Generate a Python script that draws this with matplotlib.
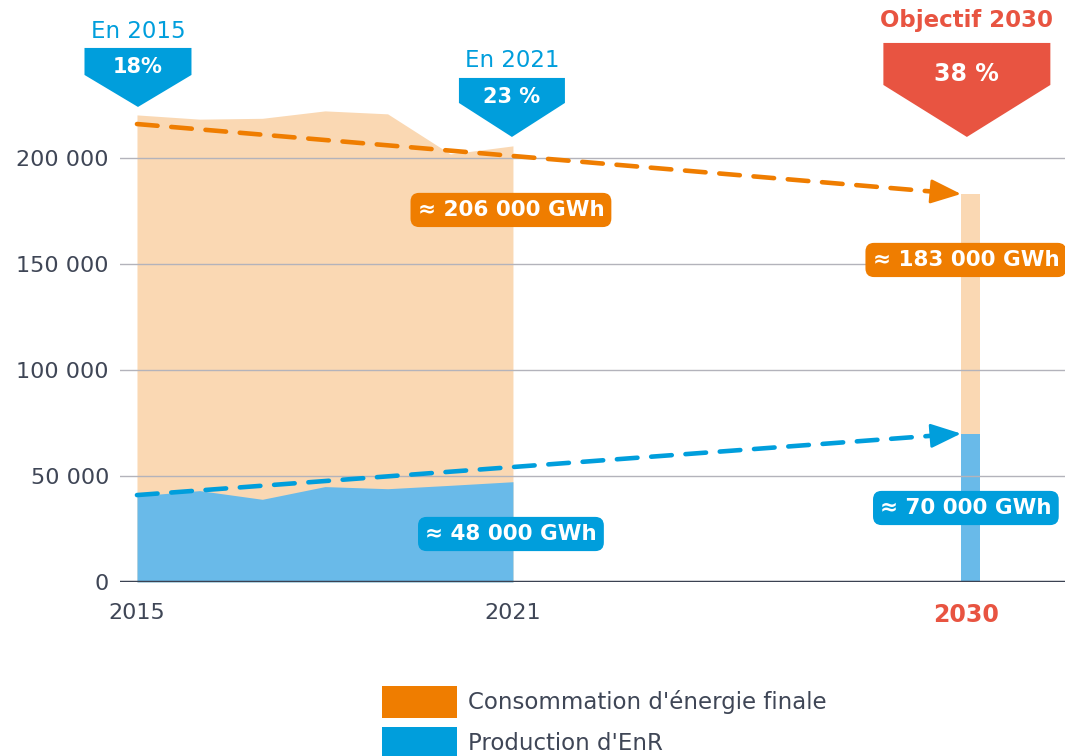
import numpy as np
import matplotlib.pyplot as plt
from matplotlib.patches import Polygon, Rectangle

plt.rcParams['font.family'] = ['DejaVu Sans']

# données
annees = [2015, 2016, 2017, 2018, 2019, 2020, 2021]
conso = [220300, 218300, 218700, 222200, 220800, 201900, 205700]
enr = [40600, 43100, 39000, 45000, 44000, 45600, 47300]
objectif_annee = 2030
objectif_conso = 183000
objectif_enr = 70000
tendance_conso = [216000, 183000]
tendance_enr = [41000, 70000]
parts = ['18%', '23 %', '38 %']
parts_titres = ['En 2015', 'En 2021', 'Objectif 2030']
etiquettes = ['≈ 206 000 GWh', '≈ 183 000 GWh', '≈ 48 000 GWh', '≈ 70 000 GWh']
yticks = [0, 50000, 100000, 150000, 200000]
ytick_labels = ['0', '50 000', '100 000', '150 000', '200 000']
legende = ["Consommation d'énergie finale", "Production d'EnR"]

ORANGE = '#EF7D00'
ORANGE_CLAIR = '#FAD8B3'
BLEU = '#009EDC'
BLEU_CLAIR = '#69BAE9'
ROUGE = '#E85441'
TEXTE = '#3F4656'

# axe x compressé entre 2021 et 2030
x = np.array(annees) - annees[0]
x_2030 = 13.3
barre_l = 0.30

W, H = 1065, 756
fig = plt.figure(figsize=(W / 100, H / 100), dpi=100)
ax = fig.add_axes([120 / W, 1 - 582 / H, 945 / W, 582 / H])
ax.set_xlim(-0.271, 14.81)
ax.set_ylim(0, 274500)

# aires
ax.fill_between(x, 0, conso, color=ORANGE_CLAIR, lw=0, zorder=1)
ax.fill_between(x, 0, enr, color=BLEU_CLAIR, lw=0, zorder=2)
ax.bar(x_2030, objectif_conso, width=barre_l, color=ORANGE_CLAIR, zorder=1)
ax.bar(x_2030, objectif_enr, width=barre_l, color=BLEU_CLAIR, zorder=2)

# grille
for v in yticks[1:]:
    ax.axhline(v, color='#B3B3BB', lw=1, zorder=3)
ax.axhline(0, color='#3B4252', lw=2.5, zorder=4)

# flèches de tendance
x_fin = x_2030 - barre_l / 2
for vals, c in [(tendance_conso, ORANGE), (tendance_enr, BLEU)]:
    xs = [x[0], x_fin - 0.22]
    ys = [vals[0], vals[0] + (vals[1] - vals[0]) * (xs[1] - x[0]) / (x_fin - x[0])]
    ax.plot(xs, ys, color=c, lw=3.3, ls=(0, (4.5, 3)), dash_capstyle='round',
            zorder=5)
    ax.annotate('', xy=(x_fin, vals[1]), xytext=(xs[1], ys[1]),
                arrowprops=dict(arrowstyle='-|>,head_length=1.0,head_width=0.4',
                                color=c, lw=2, shrinkA=0, shrinkB=0,
                                mutation_scale=19), zorder=5)

# axes
for s in ax.spines.values():
    s.set_visible(False)
ax.set_yticks(yticks)
ax.set_yticklabels(ytick_labels)
ax.set_xticks([x[0], x[-1], x_2030 - 0.07])
ax.set_xticklabels([str(annees[0]), str(annees[-1]), str(objectif_annee)])
ax.tick_params(axis='both', length=0, labelsize=16, labelcolor=TEXTE)
ax.tick_params(axis='y', pad=8)
ax.tick_params(axis='x', pad=15)
lab = ax.get_xticklabels()[2]
lab.set_color(ROUGE)
lab.set_fontweight('bold')
lab.set_fontsize(17)


def val(ypx):
    return (582 - ypx) / 2.12 * 1000


def pos(xpx):
    return (xpx - 137) / 62.67


# bulles de pourcentage
bulles = [
    (pos(138), 53.5, 48, 75, 107, BLEU, 15, 67, 32),
    (pos(512), 53, 78, 103, 137, BLEU, 15, 97, 61),
    (pos(967), 83.5, 43, 85, 137, ROUGE, 17, 74, 21),
]
for i, (cx, hw, yt, ym, yp, c, fs, ytxt, ytit) in enumerate(bulles):
    d = hw / 62.67
    poly = Polygon([(cx - d, val(yt)), (cx + d, val(yt)), (cx + d, val(ym)),
                    (cx, val(yp)), (cx - d, val(ym))],
                   closed=True, color=c, lw=0, clip_on=False, zorder=6)
    ax.add_patch(poly)
    ax.text(cx, val(ytxt), parts[i], color='white', fontsize=fs,
            fontweight='bold', ha='center', va='center', zorder=7)
    if i < 2:
        ax.text(cx, val(ytit), parts_titres[i], color=BLEU, fontsize=16.5,
                ha='center', va='center', zorder=7)
    else:
        ax.text(cx, val(ytit), parts_titres[i], color=ROUGE, fontsize=16.5,
                fontweight='bold', ha='center', va='center', zorder=7)

# étiquettes de valeurs
boites = [
    (pos(511), val(210), ORANGE),
    (pos(966), val(260), ORANGE),
    (pos(511), val(534), BLEU),
    (pos(966), val(508), BLEU),
]
for t, (bx, by, c) in zip(etiquettes, boites):
    ax.text(bx, by, t, color='white', fontsize=15.5, fontweight='bold',
            ha='center', va='center', zorder=8, clip_on=False,
            bbox=dict(boxstyle='round,pad=0.33,rounding_size=0.4', fc=c,
                      ec='none'))

# légende
for i, (t, c) in enumerate(zip(legende, [ORANGE, BLEU])):
    y0 = 686 + i * 41
    fig.add_artist(Rectangle((382 / W, 1 - (y0 + 32) / H), 75 / W, 32 / H,
                             color=c, transform=fig.transFigure, lw=0))
    fig.text(468 / W, 1 - (y0 + 16) / H, t, color=TEXTE, fontsize=16.5,
             ha='left', va='center')

fig.savefig('out.png', dpi=100)
